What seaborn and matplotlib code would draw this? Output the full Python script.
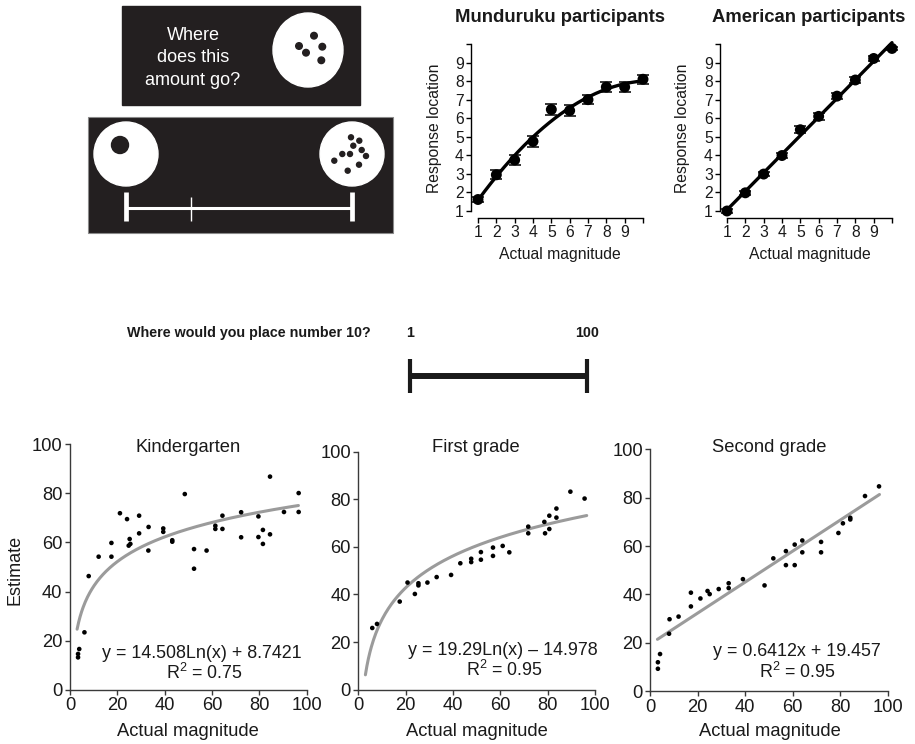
import numpy as np
import pandas as pd
import matplotlib
matplotlib.use("Agg")
import matplotlib.pyplot as plt
from matplotlib import font_manager
from matplotlib.patches import Rectangle, Ellipse, Circle
import seaborn as sns

# ---------------- number-to-space mapping (group means, 1-10 dots) ----------------
magnitudes = [1, 2, 3, 4, 5, 6, 7, 8, 9, 10]
munduruku_mean = [1.62, 2.95, 3.75, 4.75, 6.47, 6.41, 7.00, 7.68, 7.68, 8.10]
munduruku_err = [0.15, 0.25, 0.25, 0.28, 0.28, 0.28, 0.25, 0.25, 0.25, 0.25]
american_mean = [1.00, 1.98, 2.99, 3.99, 5.38, 6.10, 7.19, 8.06, 9.22, 9.76]
american_err = [0.10, 0.12, 0.12, 0.12, 0.18, 0.18, 0.18, 0.18, 0.15, 0.10]

# ---------------- number-line estimates, 0-100 line ----------------
kg_x = [3.4, 3.4, 3.9, 6.1, 7.9, 12.1, 17.5, 17.5, 21.1, 24.1, 25.2, 24.8, 25.5, 29.2,
        29.2, 33.2, 33.1, 39.4, 39.4, 43.2, 43.2, 48.5, 52.4, 52.4, 57.7, 61.4, 61.4,
        64.4, 64.4, 72.3, 72.3, 79.6, 79.6, 81.5, 81.5, 84.5, 84.5, 90.4, 96.6, 96.6]
kg_y = [13.2, 14.6, 16.6, 23.4, 46.3, 54.2, 54.2, 59.8, 71.9, 69.5, 61.4, 58.7, 59.4, 70.9,
        63.7, 66.3, 56.7, 65.7, 64.3, 60.9, 60.3, 79.7, 57.3, 49.3, 56.7, 66.8, 65.5,
        70.9, 65.5, 72.3, 62.1, 70.6, 62.2, 65.1, 59.4, 86.8, 63.3, 72.4, 80.1, 72.4]

g1_x = [5.9, 7.9, 17.5, 20.8, 23.9, 25.4, 25.4, 29.2, 33.1, 39.2, 43.1, 47.7, 47.7, 51.8,
        51.8, 56.9, 56.9, 61.0, 63.8, 71.8, 71.8, 78.6, 78.9, 80.7, 80.7, 83.7, 83.7,
        89.6, 95.6]
g1_y = [25.9, 27.6, 37.0, 45.0, 40.2, 44.7, 43.8, 45.0, 47.3, 48.2, 53.1, 55.0, 53.6, 57.8,
        54.6, 59.7, 56.2, 60.4, 57.7, 68.5, 65.7, 70.5, 65.7, 73.1, 67.5, 76.1, 72.3,
        83.2, 80.3]

g2_x = [3.2, 3.2, 4.1, 7.9, 8.1, 11.9, 17.1, 17.1, 21.1, 24.1, 25.0, 28.8, 33.0, 33.0,
        39.0, 48.1, 51.8, 57.1, 57.1, 60.8, 60.8, 64.0, 64.0, 71.9, 71.9, 79.2, 81.1,
        84.2, 84.2, 90.4, 96.3]
g2_y = [11.9, 9.2, 15.3, 23.7, 29.7, 30.8, 40.7, 35.0, 38.3, 41.4, 40.1, 42.2, 44.6, 42.6,
        46.3, 43.7, 54.9, 57.9, 52.1, 60.6, 52.1, 62.3, 57.4, 61.7, 57.4, 65.4, 69.4,
        71.7, 71.0, 80.7, 84.7]

grade_titles = ["Kindergarten", "First grade", "Second grade"]
fit_kind = ["log", "log", "linear"]
fit_slope = [14.508, 19.29, 0.6412]
fit_icept = [8.7421, -14.978, 19.457]
fit_r2 = [0.75, 0.95, 0.95]
fit_span = [3, 96.5]
grade_ticks = [0, 20, 40, 60, 80, 100]

# ---------------- styling ----------------
W, H = 915, 744
sns.set_theme(style="ticks")
plt.rcParams["font.family"] = ["Liberation Sans", "DejaVu Sans"]
plt.rcParams["mathtext.fontset"] = "custom"
plt.rcParams["mathtext.rm"] = "Liberation Sans"
plt.rcParams["mathtext.it"] = "Liberation Sans:italic"
plt.rcParams["mathtext.bf"] = "Liberation Sans:bold"

installed = {f.name for f in font_manager.fontManager.ttflist}
narrow = ["Liberation Sans Narrow", "Liberation Sans"] if "Liberation Sans Narrow" in installed \
    else ["Liberation Sans"]
narrow_size = 12 if "Liberation Sans Narrow" in installed else 10.3

INK = "#231f20"
TXT = "#1a1a1a"
fig = plt.figure(figsize=(W / 100, H / 100), dpi=100)
fig.patch.set_facecolor("white")


def box(x0, y0, x1, y1):
    return [x0 / W, 1 - y1 / H, (x1 - x0) / W, (y1 - y0) / H]


def ftext(x, y, s, **kw):
    fig.text(x / W, 1 - y / H, s, **kw)


# ---------------- task illustrations (pixel canvas) ----------------
canvas = fig.add_axes([0, 0, 1, 1], zorder=0)
canvas.set_xlim(0, W)
canvas.set_ylim(H, 0)
canvas.axis("off")

# prompt card
canvas.add_patch(Rectangle((122, 6), 238, 99, color=INK))
for line, base in zip(["Where", "does this", "amount go?"], [39.5, 62.5, 85]):
    canvas.text(193, base, line, color="white", fontsize=13, ha="center", va="baseline")
canvas.add_patch(Ellipse((308, 50), 70, 74, color="white"))
for cx, cy in [(314, 35.7), (299, 46), (306, 52.7), (322.3, 46.7), (321.3, 60.3)]:
    canvas.add_patch(Circle((cx, cy), 3.3, color=INK))

# response screen with the 1 and 10 anchors
canvas.add_patch(Rectangle((88, 117), 305, 116, facecolor=INK, edgecolor="#8a8a8a", lw=0.8))
canvas.add_patch(Circle((126, 154), 32, color="white"))
canvas.add_patch(Circle((120, 145), 8.5, color=INK))
canvas.add_patch(Circle((352, 154), 32, color="white"))
for cx, cy in [(351, 137.3), (359.3, 140.7), (353.3, 145.7), (361.7, 150), (350, 154),
               (342.3, 154), (334.3, 160.7), (366, 156), (359, 164.7), (347.7, 170.7)]:
    canvas.add_patch(Circle((cx, cy), 2.5, color=INK))
canvas.plot([126, 352], [208, 208], color="white", lw=2.2, solid_capstyle="butt")
canvas.plot([126, 126], [192, 221], color="white", lw=3.4, solid_capstyle="butt")
canvas.plot([352, 352], [192, 221], color="white", lw=3.4, solid_capstyle="butt")
canvas.plot([191, 191], [197, 221], color="white", lw=1.0, solid_capstyle="butt")

# number-line question
canvas.text(127, 337, "Where would you place number 10?", fontfamily=narrow,
            fontweight="bold", fontsize=narrow_size, ha="left", va="baseline", color=TXT)
canvas.text(410, 337, "1", fontfamily=narrow, fontweight="bold", fontsize=narrow_size,
            ha="center", va="baseline", color=TXT)
canvas.text(587, 337, "100", fontfamily=narrow, fontweight="bold", fontsize=narrow_size,
            ha="center", va="baseline", color=TXT)
canvas.plot([410, 587], [376, 376], color=TXT, lw=4.3, solid_capstyle="butt")
canvas.plot([410, 410], [359, 393], color=TXT, lw=3.0, solid_capstyle="butt")
canvas.plot([587, 587], [359, 393], color=TXT, lw=3.0, solid_capstyle="butt")


# ---------------- dot-to-line mapping panels ----------------
def mapping_panel(px, means, errs, title, degree, title_x, ylab_x, xlab_x):
    ax = fig.add_axes(box(*px), zorder=2)
    ax.patch.set_alpha(0)
    x = np.array(magnitudes, dtype=float)
    y = np.array(means, dtype=float)
    xf = np.linspace(x.min(), x.max(), 200)
    yf = np.polyval(np.polyfit(x, y, degree), xf)
    sns.lineplot(x=xf, y=yf, ax=ax, color="black", lw=2.4, clip_on=False, zorder=2)
    ax.errorbar(x, y, yerr=errs, fmt="none", ecolor="black", elinewidth=1.1,
                capsize=4.5, capthick=1.1, clip_on=False, zorder=3)
    sns.scatterplot(x=x, y=y, ax=ax, color="black", s=62, edgecolor="none",
                    clip_on=False, zorder=4)
    ax.set_xlim(1, 10)
    ax.set_ylim(1, 10)
    lbls = [str(m) if m < 10 else "" for m in magnitudes]
    ax.set_xticks(magnitudes)
    ax.set_xticklabels(lbls)
    ax.set_yticks(magnitudes)
    ax.set_yticklabels(lbls)
    sns.despine(ax=ax)
    for side in ("left", "bottom"):
        ax.spines[side].set_position(("outward", 5))
        ax.spines[side].set_color("black")
        ax.spines[side].set_linewidth(1.0)
    ax.tick_params(direction="out", length=3.6, width=1.0, color="black",
                   labelsize=11.3, pad=1.5, labelcolor=TXT)
    ax.set_xlabel("")
    ax.set_ylabel("")
    ftext(title_x, 17, title, fontsize=13.3, fontweight="bold", ha="center",
          va="center", color=TXT)
    ftext(ylab_x, 128, "Response location", fontsize=11.3, rotation=90,
          ha="center", va="center", color=TXT)
    ftext(xlab_x, 255, "Actual magnitude", fontsize=11.3, ha="center",
          va="center", color=TXT)
    return ax


mapping_panel((478, 44, 643, 211), munduruku_mean, munduruku_err,
              "Munduruku participants", 2, 560, 434, 560)
mapping_panel((727, 44, 892, 211), american_mean, american_err,
              "American participants", 1, 809, 682, 810)


# ---------------- number-line estimation panels ----------------
def grade_panel(px, xs, ys, i, title_xy, eq_xy, r2_xy, xlab_x):
    ax = fig.add_axes(box(*px), zorder=2)
    ax.patch.set_alpha(0)
    df = pd.DataFrame({"actual": xs, "estimate": ys})
    xf = np.linspace(fit_span[0], fit_span[1], 300)
    a, b = fit_slope[i], fit_icept[i]
    if fit_kind[i] == "log":
        yf = a * np.log(xf) + b
        term = f"{a:g}Ln(x)"
    else:
        yf = a * xf + b
        term = f"{a:g}x"
    sign = "+" if b >= 0 else "\u2013"
    sns.lineplot(x=xf, y=yf, ax=ax, color="#9b9b9b", lw=2.2, zorder=2)
    sns.scatterplot(data=df, x="actual", y="estimate", ax=ax, color="black", s=11,
                    edgecolor="none", zorder=3, clip_on=False)
    ax.set_xlim(0, 100)
    ax.set_ylim(0, 100)
    ax.set_xticks(grade_ticks)
    ax.set_yticks(grade_ticks)
    sns.despine(ax=ax)
    for side in ("left", "bottom"):
        ax.spines[side].set_color("#3a3a3a")
        ax.spines[side].set_linewidth(1.0)
    ax.tick_params(direction="out", length=3.6, width=1.0, color="#3a3a3a",
                   labelsize=13.2, pad=1.8, labelcolor=TXT)
    ax.set_xlabel("")
    ax.set_ylabel("")
    ftext(*title_xy, grade_titles[i], fontsize=13.2, ha="center", va="center", color=TXT)
    ftext(*eq_xy, f"y = {term} {sign} {abs(b):g}", fontsize=12.9, ha="center",
          va="baseline", color=TXT)
    ftext(*r2_xy, f"R$^2$ = {fit_r2[i]:.2f}", fontsize=12.9, ha="center",
          va="baseline", color=TXT)
    ftext(xlab_x, 732, "Actual magnitude", fontsize=13.2, ha="center",
          va="center", color=TXT)
    return ax


grade_panel((70, 444.2, 306.7, 689.8), kg_x, kg_y, 0, (188, 448), (202, 658), (204, 679), 188)
grade_panel((358.3, 451.7, 595, 689.6), g1_x, g1_y, 1, (476, 447), (503, 655), (504, 676), 477)
grade_panel((650.3, 449.4, 887.8, 691), g2_x, g2_y, 2, (769, 448), (797, 656), (797, 678), 770)
ftext(15, 570, "Estimate", fontsize=13, rotation=90, ha="center", va="center", color=TXT)

fig.savefig("out.png", dpi=100, facecolor="white")
